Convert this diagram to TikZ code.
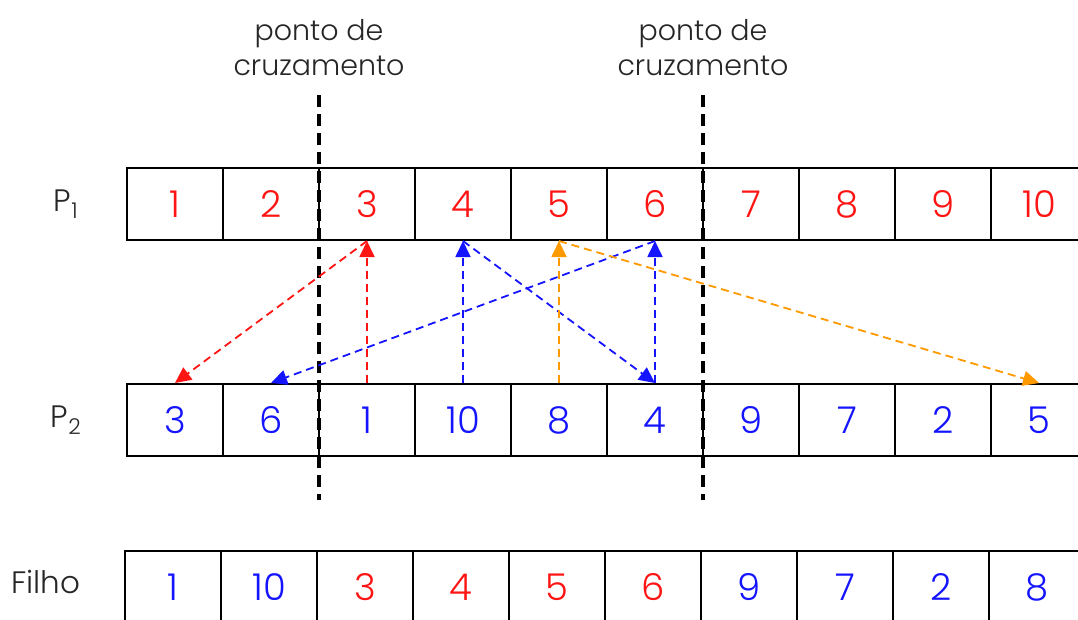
\documentclass[tikz,border=0pt]{standalone}
\usepackage{fontspec}
\setmainfont{Poppins Light}
\usetikzlibrary{arrows.meta}
\definecolor{cred}{RGB}{255,20,20}
\definecolor{cblue}{RGB}{20,20,255}
\definecolor{corange}{RGB}{255,153,0}
\tikzset{
  cell/.style={draw=black, line width=2pt, minimum width=96pt, minimum height=72pt, inner sep=0pt, font=\fontsize{37}{40}\selectfont},
  rowlabel/.style={font=\fontsize{31}{34}\selectfont, text=black!85, inner sep=0pt},
  cutlabel/.style={font=\fontsize{28.5}{35}\selectfont, text=black!85, align=center, inner sep=0pt},
  cutline/.style={draw=black, line width=3.2pt, dash pattern=on 12pt off 7pt},
  link/.style={line width=1.8pt, dash pattern=on 8pt off 5pt, -{Triangle[length=16pt,width=15pt]}},
}
\begin{document}
\begin{tikzpicture}[x=1pt,y=-1pt]
\useasboundingbox (0,0) rectangle (1078,619);
\clip (0,0) rectangle (1078,619);
% P1 row
\foreach \v [count=\i] in {1,2,3,4,5,6,7,8,9,10} {
  \node[cell, text=cred] (p1c\i) at ({175+96*(\i-1)},204) {\v};
}
% P2 row
\foreach \v [count=\i] in {3,6,1,10,8,4,9,7,2,5} {
  \node[cell, text=cblue] (p2c\i) at ({175+96*(\i-1)},420) {\v};
}
% Filho row
\foreach \v/\c [count=\i] in {1/cblue,10/cblue,3/cred,4/cred,5/cred,6/cred,9/cblue,7/cblue,2/cblue,8/cblue} {
  \node[cell, text=\c] (fc\i) at ({173+96*(\i-1)},587) {\v};
}
% row labels
\node[rowlabel] (lp1) at (66,204) {P\textsubscript{1}};
\node[rowlabel] (lp2) at (66,420) {P\textsubscript{2}};
\node[rowlabel] (lf) at (46,582) {Filho};
% crossover points
\node[cutlabel] (cl1) at (319,48) {ponto de\\cruzamento};
\node[cutlabel] (cl2) at (703,48) {ponto de\\cruzamento};
\coordinate (k1a) at (319,95);
\coordinate (k1b) at (319,500);
\coordinate (k2a) at (703,95);
\coordinate (k2b) at (703,500);
\draw[cutline] (k1a) -- (k1b);
\draw[cutline] (k2a) -- (k2b);
% connectors
\draw[link, cred] (p2c3.north) -- (p1c3.south);
\draw[link, cred] (p1c3.south) -- (p2c1.north);
\draw[link, cblue] (p2c4.north) -- (p1c4.south);
\draw[link, cblue] (p1c4.south) -- (p2c6.north);
\draw[link, cblue] (p2c6.north) -- (p1c6.south);
\draw[link, cblue] (p1c6.south) -- (p2c2.north);
\draw[link, corange] (p2c5.north) -- (p1c5.south);
\draw[link, corange] (p1c5.south) -- (p2c10.north);
\end{tikzpicture}
\end{document}
